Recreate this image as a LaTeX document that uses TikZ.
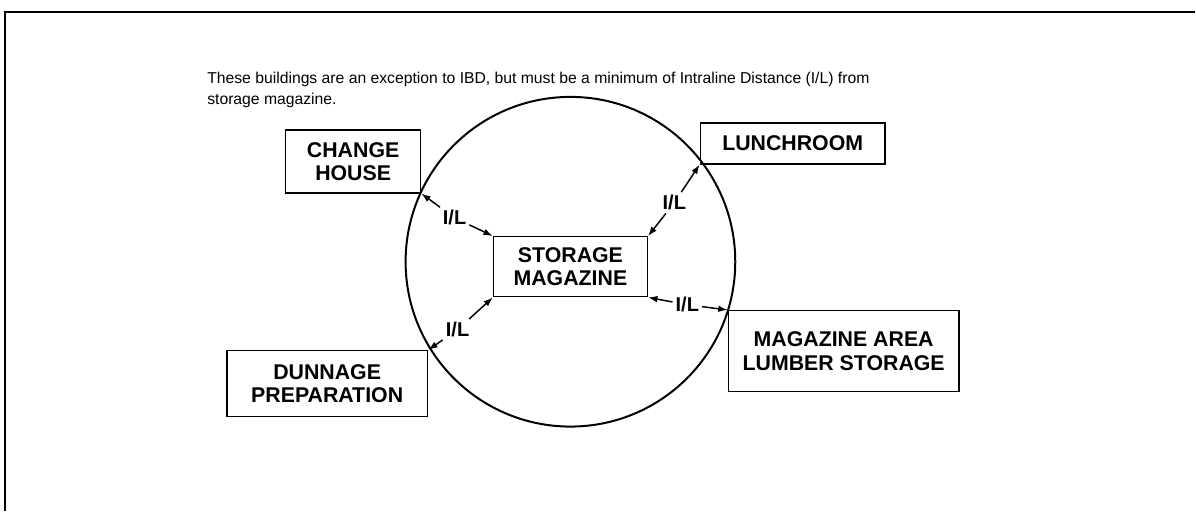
\documentclass[tikz,border=0pt]{standalone}
\usepackage{fontspec}
\setmainfont{Liberation Sans}
\usetikzlibrary{arrows.meta}

\tikzset{every picture/.style={line width=0.75pt}}
\tikzset{
  bldg/.style={draw, line width=1.1pt, align=center, inner sep=0pt,
    font=\bfseries\fontsize{16}{17.5}\selectfont},
  dist/.style={inner sep=2pt, font=\bfseries\fontsize{15}{16}\selectfont},
  arr/.style={-{Latex[length=7pt,width=5pt]}, line width=1.1pt}
}

\begin{document}
\begin{tikzpicture}[x=0.75pt,y=0.75pt,yscale=-1,xscale=1]
\path (0,0) rectangle (1196,512); %set diagram size

%Frame lines
\draw [line width=1.8pt] (5,512) -- (5,12) -- (1196,12) ;

% Text Node
\node [anchor=west, inner sep=0pt, font=\fontsize{11.8}{13}\selectfont] (note1) at (207,80) {These buildings are an exception to IBD, but must be a minimum of Intraline Distance (I/L) from};
% Text Node
\node [anchor=west, inner sep=0pt, font=\fontsize{11.8}{13}\selectfont] (note2) at (207,101) {storage magazine.};

%Shape: Circle
\draw [line width=1.5pt] (571,262) circle [radius=123.75pt] ;

%Buildings
\node [bldg, minimum width=101.25pt, minimum height=47.25pt] (change) at (353.5,161.5) {CHANGE\\HOUSE};
\node [bldg, minimum width=138.75pt, minimum height=30.75pt] (lunch) at (793.5,143.5) {LUNCHROOM};
\node [bldg, minimum width=115.5pt, minimum height=45pt] (store) at (571,267) {STORAGE\\MAGAZINE};
\node [bldg, minimum width=173.25pt, minimum height=60.75pt] (lumber) at (844.5,351.5) {MAGAZINE AREA\\LUMBER STORAGE};
\node [bldg, minimum width=150.75pt, minimum height=49.5pt] (dunnage) at (327.5,384) {DUNNAGE\\PREPARATION};

%Intraline distances
\node [dist] (ilchange) at (455,218) {I/L};
\node [dist] (illunch) at (675,203) {I/L};
\node [dist] (ildunnage) at (458,330) {I/L};
\node [dist] (illumber) at (688,305) {I/L};

\draw [arr] (ilchange) -- (change.south east) ;
\draw [arr] (ilchange) -- (store.north west) ;
\draw [arr] (illunch) -- (lunch.south west) ;
\draw [arr] (illunch) -- (store.north east) ;
\draw [arr] (ildunnage) -- (store.south west) ;
\draw [arr] (ildunnage) -- (dunnage.north east) ;
\draw [arr] (illumber) -- (store.south east) ;
\draw [arr] (illumber) -- (lumber.north west) ;

\end{tikzpicture}
\end{document}
